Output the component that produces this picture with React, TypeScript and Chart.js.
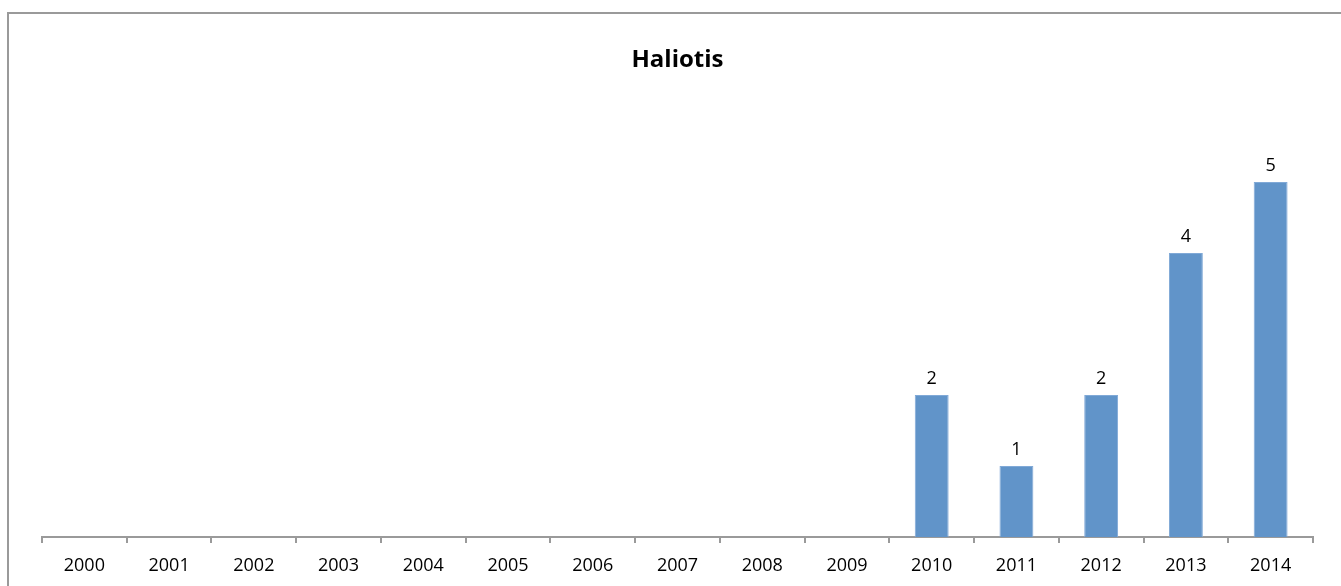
import React, { useEffect, useRef } from "react";
import { Chart, registerables } from "chart.js";

Chart.register(...registerables);

const categories = ["2000", "2001", "2002", "2003", "2004", "2005", "2006", "2007", "2008", "2009", "2010", "2011", "2012", "2013", "2014"];
const values: (number | null)[] = [null, null, null, null, null, null, null, null, null, null, 2, 1, 2, 4, 5];
const chartTitle = "Haliotis";

const decorPlugin = {
  id: "decor",
  beforeDraw(chart: any) {
    const ctx = chart.ctx;
    ctx.save();
    ctx.fillStyle = "#ffffff";
    ctx.fillRect(0, 0, chart.width, chart.height);
    ctx.fillStyle = "#9a9a9a";
    ctx.fillRect(7, 12, 2, chart.height - 12);
    ctx.fillRect(7, 12, chart.width - 7, 2);
    ctx.restore();
  },
  afterDraw(chart: any) {
    const ctx = chart.ctx;
    const area = chart.chartArea;
    ctx.save();
    ctx.fillStyle = "#000000";
    ctx.font = "bold 24px 'Open Sans'";
    ctx.textAlign = "center";
    ctx.textBaseline = "middle";
    ctx.fillText(chartTitle, (area.left + area.right) / 2, 60);
    ctx.font = "18px 'Open Sans'";
    ctx.textBaseline = "bottom";
    const meta = chart.getDatasetMeta(0);
    meta.data.forEach((bar: any, i: number) => {
      const v = values[i];
      if (v === null || v === undefined) return;
      ctx.fillText(String(v), bar.x, bar.y - 7);
    });
    ctx.restore();
  },
};

export default function App() {
  const ref = useRef<HTMLCanvasElement>(null);
  useEffect(() => {
    if (!ref.current) return;
    const chart = new Chart(ref.current, {
      type: "bar",
      data: {
        labels: categories,
        datasets: [
          {
            data: values as any,
            backgroundColor: "#6194C9",
            borderColor: "#80A9D7",
            borderWidth: 1,
            barPercentage: 0.4,
            categoryPercentage: 1,
          },
        ],
      },
      options: {
        responsive: false,
        animation: false,
        layout: { padding: { left: 42, right: 28, top: 111, bottom: 0 } },
        plugins: {
          legend: { display: false },
          title: { display: false },
          tooltip: { enabled: false },
        },
        scales: {
          x: {
            offset: true,
            grid: {
              offset: true,
              drawOnChartArea: false,
              drawTicks: true,
              tickLength: 6,
              color: "#9a9a9a",
              lineWidth: 2,
            },
            border: { display: true, color: "#9a9a9a", width: 2 },
            ticks: {
              color: "#000000",
              font: { family: "'Open Sans'", size: 18 },
              padding: 12,
              maxRotation: 0,
              autoSkip: false,
            },
            afterFit(scale: any) {
              scale.height = 49;
            },
          },
          y: {
            display: false,
            min: 0,
            max: 6,
          },
        },
      },
      plugins: [decorPlugin],
    });
    return () => chart.destroy();
  }, []);
  return (
    <canvas
      ref={ref}
      width={1341}
      height={586}
      style={{ position: "fixed", left: 0, top: 0, display: "block" }}
    />
  );
}
